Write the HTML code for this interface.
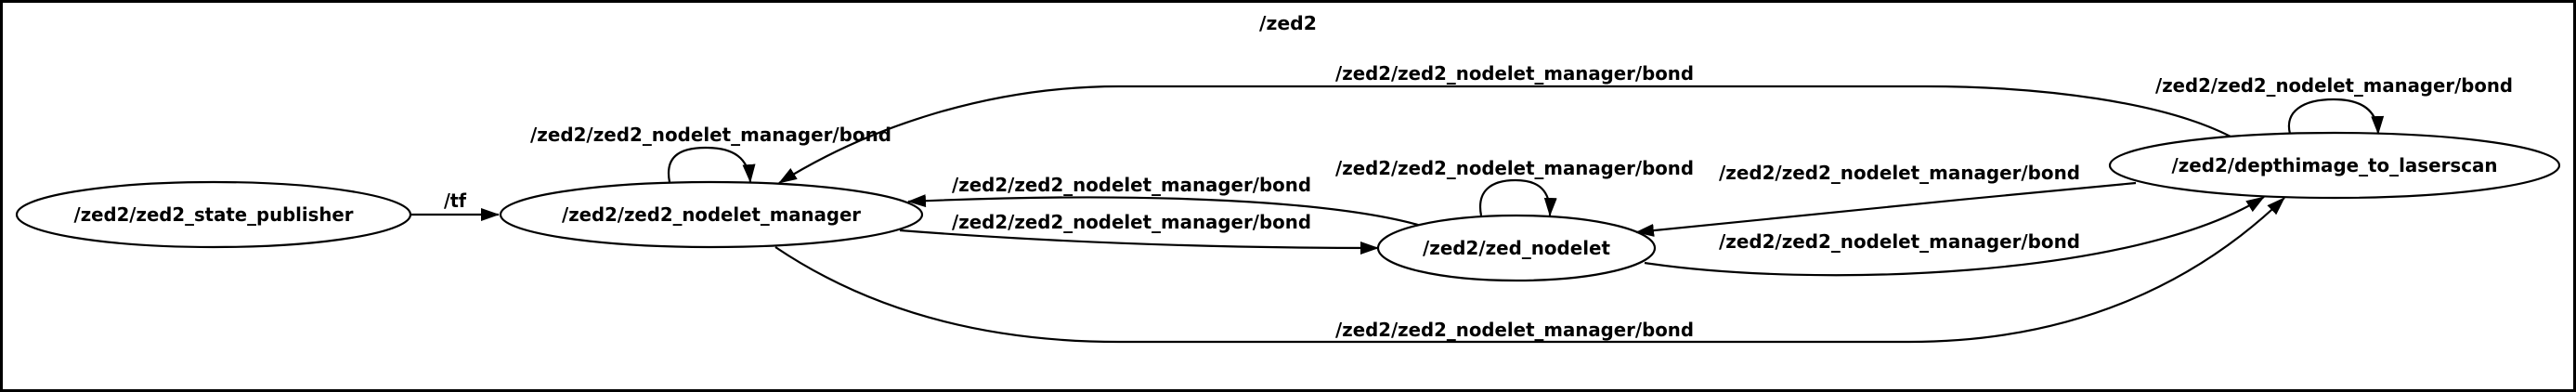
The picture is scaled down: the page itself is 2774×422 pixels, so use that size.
<!DOCTYPE html>
<html><head><meta charset="utf-8"><style>
html,body{margin:0;padding:0;background:#fff;}
svg{display:block;}
text{font-family:"DejaVu Sans","Liberation Sans",sans-serif;font-weight:bold;font-size:20px;fill:#000;}
</style></head><body>
<svg width="2774" height="422" viewBox="0 0 2774 422" xmlns="http://www.w3.org/2000/svg">
<defs>
<marker id="a" markerWidth="20" markerHeight="14" refX="19" refY="7" orient="auto" markerUnits="userSpaceOnUse">
<path d="M0,0 L20,7 L0,14 Z" fill="#000"/>
</marker>
</defs>
<rect x="1.5" y="1.5" width="2771" height="419" fill="#fff" stroke="#000" stroke-width="3"/>
<text x="1387" y="32" text-anchor="middle" textLength="62" lengthAdjust="spacingAndGlyphs">/zed2</text>

<g fill="none" stroke="#000" stroke-width="2.2">
<ellipse cx="230" cy="231" rx="212" ry="35"/>
<ellipse cx="766" cy="231" rx="227" ry="35"/>
<ellipse cx="1633" cy="267" rx="149" ry="35"/>
<ellipse cx="2514" cy="178" rx="242" ry="35"/>

<path d="M442,231 L537,231" marker-end="url(#a)"/>
<path d="M721,196 C716,170 730,159 760,159 C790,159 806,170 808,196" marker-end="url(#a)"/>
<path d="M2402,147 C2330,110 2200,93 2073,93 L1205,93 C1060,93 930,140 839,197" marker-end="url(#a)"/>
<path d="M2466,144 C2460,120 2480,107 2513,107 C2545,107 2560,120 2561,144" marker-end="url(#a)"/>
<path d="M1595,232 C1590,206 1605,194 1632,194 C1658,194 1670,206 1669,232" marker-end="url(#a)"/>
<path d="M1527,242 C1440,218 1250,205 978,217" marker-end="url(#a)"/>
<path d="M969,248 C1150,262 1330,267 1484,267" marker-end="url(#a)"/>
<path d="M2300,197 C2120,214 1900,235 1762,250" marker-end="url(#a)"/>
<path d="M1771,283 C1950,310 2300,300 2438,212" marker-end="url(#a)"/>
<path d="M835,266 C930,330 1050,368 1205,368 L2056,368 C2240,368 2370,300 2460,213" marker-end="url(#a)"/>
</g>

<g>
<text x="230" y="238" text-anchor="middle" textLength="301" lengthAdjust="spacingAndGlyphs">/zed2/zed2_state_publisher</text>
<text x="766" y="238" text-anchor="middle" textLength="322" lengthAdjust="spacingAndGlyphs">/zed2/zed2_nodelet_manager</text>
<text x="1633" y="274" text-anchor="middle" textLength="202" lengthAdjust="spacingAndGlyphs">/zed2/zed_nodelet</text>
<text x="2514" y="185" text-anchor="middle" textLength="351" lengthAdjust="spacingAndGlyphs">/zed2/depthimage_to_laserscan</text>

<text x="478" y="223" textLength="24" lengthAdjust="spacingAndGlyphs">/tf</text>
<text x="571" y="152" textLength="389" lengthAdjust="spacingAndGlyphs">/zed2/zed2_nodelet_manager/bond</text>
<text x="1438" y="86" textLength="386" lengthAdjust="spacingAndGlyphs">/zed2/zed2_nodelet_manager/bond</text>
<text x="2321" y="99" textLength="385" lengthAdjust="spacingAndGlyphs">/zed2/zed2_nodelet_manager/bond</text>
<text x="1438" y="188" textLength="386" lengthAdjust="spacingAndGlyphs">/zed2/zed2_nodelet_manager/bond</text>
<text x="1025" y="206" textLength="387" lengthAdjust="spacingAndGlyphs">/zed2/zed2_nodelet_manager/bond</text>
<text x="1025" y="246" textLength="387" lengthAdjust="spacingAndGlyphs">/zed2/zed2_nodelet_manager/bond</text>
<text x="1851" y="193" textLength="389" lengthAdjust="spacingAndGlyphs">/zed2/zed2_nodelet_manager/bond</text>
<text x="1851" y="267" textLength="389" lengthAdjust="spacingAndGlyphs">/zed2/zed2_nodelet_manager/bond</text>
<text x="1438" y="362" textLength="386" lengthAdjust="spacingAndGlyphs">/zed2/zed2_nodelet_manager/bond</text>
</g>
</svg>
</body></html>
